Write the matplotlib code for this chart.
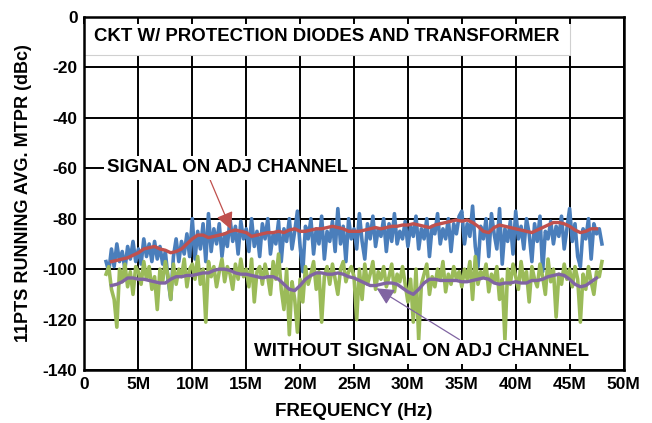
import numpy as np
import matplotlib
matplotlib.use("Agg")
import matplotlib.pyplot as plt
import matplotlib.patches as patches

plt.rcParams['font.family'] = ['Liberation Sans', 'DejaVu Sans']
plt.rcParams['font.weight'] = 'bold'
plt.rcParams['axes.unicode_minus'] = False

# raw MTPR, signal on adjacent channel (step 0.25 MHz, 2 MHz .. 48 MHz)
with_signal = [
    -97, -101, -92, -99, -90, -97, -93, -100, -91, -96, -89, -97,
    -92, -98, -88, -95, -90, -97, -89, -96, -91, -98, -93, -104, -112, -95, -88, -97, -89, -94, -86, -95,
    -80, -96, -85, -92, -82, -97, -78, -93, -84, -90, -82, -95, -86, -91, -80, -89, -83, -94, -81, -88,
    -84, -93, -80, -91, -85, -95, -82, -88, -80, -94, -86, -90, -81, -97, -84, -89, -80, -92, -85, -77,
    -91, -101, -83, -88, -80, -94, -84, -90, -79, -96, -85, -89, -81, -93, -76, -90, -83, -97, -80, -88,
    -84, -92, -78, -89, -96, -82, -88, -79, -91, -84, -87, -80, -93, -82, -89, -78, -90, -85, -88, -81,
    -91, -83, -87, -79, -92, -84, -88, -80, -95, -83, -86, -78, -90, -84, -88, -80, -93, -82, -86, -79,
    -77, -90, -82, -87, -75, -91, -99, -83, -88, -80, -95, -78, -86, -92, -76, -98, -84, -89, -81, -94,
    -77, -88, -83, -92, -80, -86, -97, -82, -89, -79, -101, -85, -88, -81, -90, -83, -87, -79, -92, -84,
    -76, -89, -82, -95, -99, -84, -88, -80, -96, -82, -86, -84, -90,
]

# raw MTPR, no signal on adjacent channel (same grid)
without_signal = [
    -102, -99, -108, -112, -123, -100, -105, -98, -107, -101, -110, -99,
    -101, -106, -97, -104, -99, -108, -103, -116, -100, -105, -97, -103, -112, -98, -106, -100, -103, -96, -107, -100,
    -98, -104, -95, -106, -100, -121, -97, -103, -99, -107, -101, -96, -105, -99, -102, -108, -98, -104, -96, -103,
    -100, -107, -96, -113, -101, -99, -106, -98, -103, -110, -97, -104, -94, -108, -116, -100, -126, -105, -112, -125,
    -104, -113, -99, -106, -102, -97, -108, -101, -121, -103, -99, -106, -98, -104, -110, -100, -97, -105, -101, -99,
    -103, -120, -100, -112, -98, -106, -102, -97, -108, -101, -104, -99, -107, -103, -98, -109, -102, -105, -99, -106,
    -113, -104, -121, -100, -128, -106, -102, -98, -110, -103, -107, -100, -104, -97, -109, -102, -106, -99, -104, -101,
    -107, -100, -104, -97, -112, -95, -106, -101, -103, -98, -109, -102, -105, -99, -112, -104, -128, -100, -106, -98,
    -103, -108, -97, -105, -101, -113, -99, -104, -107, -98, -103, -110, -96, -105, -100, -119, -102, -106, -98, -104,
    -100, -107, -99, -104, -121, -102, -108, -99, -105, -110, -101, -103, -97,
]

# 11 pt running averages (step 0.5 MHz, 2.5 MHz .. 47.5 MHz)
with_signal_avg = [
    -97, -96.5, -96, -95.5, -94.5, -93.5, -92, -91.5, -91, -92, -92.5, -93.5, -93, -92, -90, -88,
    -86.5, -86.5, -87.5, -87, -86.5, -86, -85, -84.5, -85, -85.5, -87, -86.5, -86, -85.5, -85.5, -85,
    -85.5, -84.5, -84, -85, -85, -84.5, -84, -84, -83.5, -83, -83.5, -84, -85, -85, -85, -84.5,
    -84, -83.5, -84, -83.5, -83, -83, -82.5, -82.5, -82, -82.5, -83, -83.5, -82.5, -82, -81.5, -81,
    -80.5, -81, -80.5, -81.5, -83, -85, -85.5, -83.5, -82.5, -83, -83.5, -84, -84.5, -85, -85.5, -84.5,
    -83.5, -82.5, -81.5, -81.5, -82, -83, -84.5, -85.5, -85, -84, -84,
]
without_signal_avg = [
    -106.5, -106, -105, -103.5, -103.5, -104, -104, -104.5, -105, -105.5, -105.5, -104, -103, -103,
    -102.5, -102.5, -102, -101.5, -101.5, -100.5, -100, -100, -100.5, -101.5, -102, -102, -102.5, -103,
    -103.5, -103, -103, -104, -106, -108, -108.5, -106.5, -104, -102.5, -101.5, -101.5, -102, -102,
    -101.5, -102, -103, -103.5, -104.5, -105.5, -106.5, -106.5, -106, -105.5, -105.5, -106, -107.5, -109,
    -110, -108, -105.5, -104, -104, -104.5, -104.5, -104.5, -104.5, -105, -105, -104.5, -104, -103.5,
    -104, -105.5, -106, -105.5, -105.5, -105, -105.5, -105.5, -104.5, -104.5, -104, -103, -102.5, -102,
    -102.5, -104, -106, -107, -106.5, -105, -103.5,
]

freq_raw = np.linspace(2.0, 48.0, len(with_signal))
freq_raw2 = np.linspace(2.0, 48.0, len(without_signal))
freq_avg = np.linspace(2.5, 47.5, len(with_signal_avg))
freq_avg2 = np.linspace(2.5, 47.5, len(without_signal_avg))

x_ticks = [0, 5, 10, 15, 20, 25, 30, 35, 40, 45, 50]
x_labels = ['0', '5M', '10M', '15M', '20M', '25M', '30M', '35M', '40M', '45M', '50M']
y_ticks = [0, -20, -40, -60, -80, -100, -120, -140]

fig = plt.figure(figsize=(6.52, 4.23), dpi=100)
ax = fig.add_axes([0.1296, 0.1253, 0.8267, 0.8345])

# grid drawn by hand so the caption box can sit over it but under the top ticks
for xt in x_ticks:
    ax.axvline(xt, color='black', lw=1.4, zorder=1)
for yt in y_ticks:
    ax.axhline(yt, color='black', lw=1.4, zorder=1)

ax.plot(freq_raw, with_signal, color='#4a7ebb', lw=2.6, zorder=2)
ax.plot(freq_raw2, without_signal, color='#9bbb59', lw=2.6, zorder=2)
ax.plot(freq_avg, with_signal_avg, color='#c0504d', lw=2.4, zorder=3)
ax.plot(freq_avg2, without_signal_avg, color='#8064a2', lw=2.4, zorder=3)

ax.set_xlim(0, 50)
ax.set_ylim(-140, 0)
ax.set_xticks(x_ticks)
ax.set_xticklabels(x_labels)
ax.set_yticks(y_ticks)
ax.set_axisbelow(False)
ax.tick_params(length=0, labelsize=12.5, pad=5)
ax.tick_params(axis='x', top=True, direction='in', length=5, width=1.4)
ax.tick_params(axis='x', bottom=False, which='both')
for s in ax.spines.values():
    s.set_linewidth(1.8)

# title box in upper-left
box = patches.Rectangle((0, -15), 45, 15, facecolor='white', edgecolor='#d0d0d0', lw=0.8, zorder=1.5)
ax.add_patch(box)
ax.text(0.9, -7.8, 'CKT W/ PROTECTION DIODES AND TRANSFORMER', fontsize=13.4, fontweight='bold',
        va='center', ha='left', zorder=4)

ax.set_xlabel('FREQUENCY (Hz)', fontsize=13.5, fontweight='bold', labelpad=8)
ax.set_ylabel('11PTS RUNNING AVG. MTPR (dBc)', fontsize=13, fontweight='bold', labelpad=8)

ax.annotate('SIGNAL ON ADJ CHANNEL', xy=(13.6, -84.3), xytext=(13.3, -59.8),
            fontsize=13.4, fontweight='bold', ha='center', va='center', zorder=5,
            bbox=dict(boxstyle='square,pad=0.2', fc='white', ec='none'),
            arrowprops=dict(arrowstyle='-|>', color='#c0504d', lw=0.9, mutation_scale=26,
                            shrinkA=0, shrinkB=0, relpos=(0.42, 0.0)))
ax.annotate('WITHOUT SIGNAL ON ADJ CHANNEL', xy=(27.1, -107.6), xytext=(31.3, -132.8),
            fontsize=13.5, fontweight='bold', ha='center', va='center', zorder=5,
            bbox=dict(boxstyle='square,pad=0.2', fc='white', ec='none'),
            arrowprops=dict(arrowstyle='-|>', color='#8064a2', lw=0.9, mutation_scale=26,
                            shrinkA=0, shrinkB=0, relpos=(0.63, 1.0)))

fig.savefig('out.png', dpi=100)
plt.close()
